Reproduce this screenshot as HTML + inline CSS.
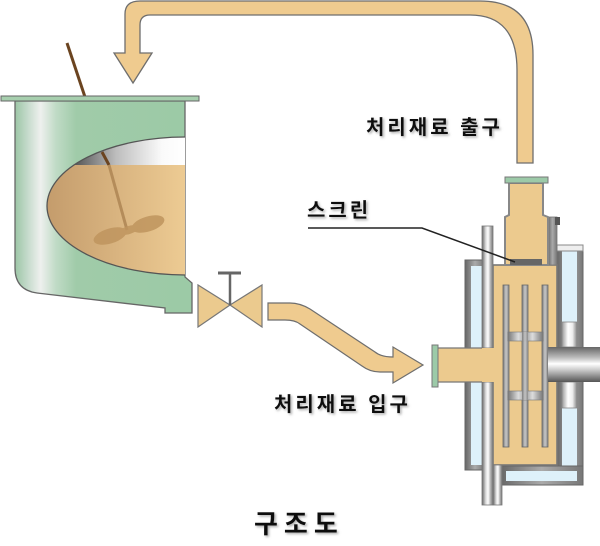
<!DOCTYPE html>
<html>
<head>
<meta charset="utf-8">
<style>
html,body{margin:0;padding:0;background:#fff;}
svg{display:block;}
.t{font-family:"Liberation Sans","Noto Sans CJK KR",sans-serif;font-weight:bold;fill:#111;}
</style>
</head>
<body>
<svg width="600" height="546" viewBox="0 0 600 546" xmlns="http://www.w3.org/2000/svg">
<defs>
  <linearGradient id="green" gradientUnits="userSpaceOnUse" x1="15" y1="0" x2="185" y2="0">
    <stop offset="0" stop-color="#9cc6a6"/>
    <stop offset="0.08" stop-color="#c8dcce"/>
    <stop offset="0.15" stop-color="#eef0ee"/>
    <stop offset="0.24" stop-color="#c0dbc6"/>
    <stop offset="0.36" stop-color="#a0cba9"/>
    <stop offset="1" stop-color="#9ccaa6"/>
  </linearGradient>
  <linearGradient id="grayTop" gradientUnits="userSpaceOnUse" x1="70" y1="0" x2="185" y2="0">
    <stop offset="0" stop-color="#4a4a4a"/>
    <stop offset="0.4" stop-color="#bdbdbd"/>
    <stop offset="0.8" stop-color="#fafafa"/>
    <stop offset="1" stop-color="#ffffff"/>
  </linearGradient>
  <linearGradient id="liquid" gradientUnits="userSpaceOnUse" x1="47" y1="0" x2="185" y2="0">
    <stop offset="0" stop-color="#c49c6c"/>
    <stop offset="1" stop-color="#edcb93"/>
  </linearGradient>
  <linearGradient id="rod" x1="0" y1="0" x2="1" y2="0">
    <stop offset="0" stop-color="#666"/>
    <stop offset="0.35" stop-color="#ddd"/>
    <stop offset="0.55" stop-color="#fff"/>
    <stop offset="0.8" stop-color="#aaa"/>
    <stop offset="1" stop-color="#777"/>
  </linearGradient>
  <linearGradient id="bar" x1="0" y1="0" x2="1" y2="0">
    <stop offset="0" stop-color="#777"/>
    <stop offset="0.5" stop-color="#c8c8c8"/>
    <stop offset="1" stop-color="#888"/>
  </linearGradient>
  <linearGradient id="band" x1="0" y1="0" x2="1" y2="0">
    <stop offset="0" stop-color="#777"/>
    <stop offset="0.3" stop-color="#ddd"/>
    <stop offset="0.5" stop-color="#999"/>
    <stop offset="0.7" stop-color="#ddd"/>
    <stop offset="1" stop-color="#777"/>
  </linearGradient>
  <linearGradient id="shaft" x1="0" y1="0" x2="0" y2="1">
    <stop offset="0" stop-color="#666"/>
    <stop offset="0.3" stop-color="#bbb"/>
    <stop offset="0.48" stop-color="#fff"/>
    <stop offset="0.65" stop-color="#ccc"/>
    <stop offset="1" stop-color="#555"/>
  </linearGradient>
  <linearGradient id="bear" x1="0" y1="0" x2="1" y2="0">
    <stop offset="0" stop-color="#999"/>
    <stop offset="0.4" stop-color="#fff"/>
    <stop offset="0.7" stop-color="#eee"/>
    <stop offset="1" stop-color="#888"/>
  </linearGradient>
  <linearGradient id="frame" x1="0" y1="0" x2="1" y2="0">
    <stop offset="0" stop-color="#666"/>
    <stop offset="0.5" stop-color="#aaa"/>
    <stop offset="1" stop-color="#777"/>
  </linearGradient>
  <clipPath id="cut">
    <path d="M185,137 A138,69 0 0 0 185,275 Z"/>
  </clipPath>
  <filter id="sh" x="-10%" y="-30%" width="120%" height="160%">
    <feGaussianBlur in="SourceAlpha" stdDeviation="1.2"/>
    <feOffset dx="1.5" dy="1.5" result="b"/>
    <feFlood flood-color="#888" flood-opacity="0.7"/>
    <feComposite in2="b" operator="in"/>
    <feMerge><feMergeNode/><feMergeNode in="SourceGraphic"/></feMerge>
  </filter>
</defs>

<!-- Return pipe -->
<path d="M517,163 L517,70 Q517,15 470,15 L150,15 Q140,15 140,25 L140,53 L152,53 L133,83 L114,53 L125,53 L125,14 Q125,1 140,1 L480,1 Q533,1 533,55 L533,163 Z" fill="#efcb8f" stroke="#6e6e6e" stroke-width="1.3"/>

<!-- Agitator shaft outside -->
<line x1="67" y1="43" x2="85" y2="97" stroke="#6b4420" stroke-width="3"/>

<!-- Tank body -->
<path d="M15,101 L185,101 L185,277 L192,283 L192,313 L165,313 L165,308 L37,293 Q15,290 15,268 Z" fill="url(#green)" stroke="#666" stroke-width="1.3"/>
<!-- Rim -->
<rect x="1" y="96" width="198" height="5" fill="#a7cfae" stroke="#666" stroke-width="1"/>

<!-- Cutout -->
<g clip-path="url(#cut)">
  <rect x="40" y="130" width="150" height="36" fill="url(#grayTop)"/>
  <rect x="40" y="165" width="150" height="115" fill="url(#liquid)"/>
  <line x1="102" y1="152" x2="109" y2="165" stroke="#6b4420" stroke-width="3"/>
  <line x1="109" y1="165" x2="127" y2="230" stroke="#b48c5a" stroke-width="3"/>
  <g fill="#bf955e" opacity="0.85">
    <ellipse cx="110" cy="236" rx="17" ry="7.5" transform="rotate(-17 110 236)"/>
    <ellipse cx="148" cy="224" rx="17" ry="7.5" transform="rotate(-17 148 224)"/>
    <ellipse cx="129" cy="230" rx="10" ry="4" transform="rotate(-17 129 230)"/>
  </g>
</g>
<path d="M185,137 A138,69 0 0 0 185,275" fill="none" stroke="#555" stroke-width="1.3"/>

<!-- Valve -->
<polygon points="198,285 198,327 230,305" fill="#ebca8e" stroke="#777" stroke-width="1.2"/>
<polygon points="262,285 262,327 230,305" fill="#ebca8e" stroke="#777" stroke-width="1.2"/>
<line x1="230" y1="305" x2="230" y2="273" stroke="#666" stroke-width="2.5"/>
<line x1="218" y1="273" x2="241" y2="273" stroke="#666" stroke-width="3"/>

<!-- Inlet pipe arrow -->
<path d="M268,303 L290,303 Q300,303 310,309 L375,352 Q381,357 393,357 L393,347 L423,365 L393,383 L393,372 L380,372 Q370,372 362,366 L300,324 Q295,320 285,320 L268,320 Z" fill="#efcb8f" stroke="#6e6e6e" stroke-width="1.2"/>

<!-- Machine: right jacket -->
<rect x="557" y="245" width="26" height="240" fill="url(#frame)" stroke="#666" stroke-width="1"/>
<rect x="562" y="251" width="15" height="229" fill="#def1fa"/>
<rect x="557" y="245" width="26" height="6" fill="#eee" stroke="#888" stroke-width="1"/>
<!-- bottom strip -->
<rect x="500" y="466" width="83" height="19" fill="url(#frame)" stroke="#666" stroke-width="1"/>
<rect x="506" y="471" width="71" height="10" fill="#def1fa"/>
<!-- left jacket -->
<rect x="465" y="260" width="20" height="210" fill="url(#frame)" stroke="#666" stroke-width="1"/>
<rect x="471" y="266" width="11" height="199" fill="#def1fa"/>

<!-- Tan body -->
<rect x="493" y="265" width="64" height="200" fill="#ecca8e" stroke="#777" stroke-width="1.6"/>
<!-- inner bars -->
<rect x="503" y="285" width="6" height="162" fill="url(#bar)" stroke="#666" stroke-width="0.8"/>
<rect x="522" y="285" width="6" height="162" fill="url(#bar)" stroke="#666" stroke-width="0.8"/>
<rect x="542" y="285" width="6" height="162" fill="url(#bar)" stroke="#666" stroke-width="0.8"/>
<rect x="508" y="332" width="35" height="9" fill="url(#band)" stroke="#777" stroke-width="0.6"/>
<rect x="508" y="391" width="35" height="9" fill="url(#band)" stroke="#777" stroke-width="0.6"/>
<rect x="522" y="332" width="6" height="68" fill="url(#bar)" opacity="0.9"/>

<!-- bearings -->
<rect x="562" y="322" width="15" height="25" fill="url(#bear)" stroke="#888" stroke-width="0.8"/>
<rect x="562" y="382" width="15" height="26" fill="url(#bear)" stroke="#888" stroke-width="0.8"/>
<!-- shaft -->
<rect x="548" y="347" width="53" height="35" fill="url(#shaft)"/>

<!-- rod (split at inlet) -->
<rect x="482" y="226" width="11" height="122" fill="url(#rod)" stroke="#777" stroke-width="0.8"/>
<rect x="482" y="382" width="11" height="123" fill="url(#rod)" stroke="#777" stroke-width="0.8"/>
<rect x="493" y="465" width="9" height="40" fill="url(#rod)" stroke="#777" stroke-width="0.8"/>

<!-- inlet -->
<rect x="438" y="348" width="57" height="34" fill="#ecca8e"/>
<line x1="438" y1="348" x2="482" y2="348" stroke="#777" stroke-width="1.2"/>
<line x1="438" y1="382" x2="482" y2="382" stroke="#777" stroke-width="1.2"/>
<rect x="432" y="345" width="6" height="42" fill="#9ccaa8" stroke="#777" stroke-width="1"/>

<!-- outlet -->
<rect x="548" y="217" width="9" height="48" fill="url(#frame)" stroke="#777" stroke-width="0.8"/>
<rect x="555" y="217" width="5" height="8" fill="#555"/>
<path d="M509,183 L543,183 L543,215 L548,217 L548,265 L505,265 L505,217 L509,215 Z" fill="#ecca8e" stroke="#888" stroke-width="2"/>
<rect x="505" y="177" width="43" height="6" fill="#9ccaa8" stroke="#777" stroke-width="1"/>
<!-- screen -->
<rect x="510" y="259" width="32" height="6" fill="#666"/>

<!-- leader line -->
<polyline points="308,228 422,228 515,262" fill="none" stroke="#222" stroke-width="1.5"/>

<!-- Labels -->
<g filter="url(#sh)">
  <text class="t" x="366" y="134" font-size="20" letter-spacing="3">처리재료 출구</text>
  <text class="t" x="307" y="217" font-size="20" letter-spacing="3">스크린</text>
  <text class="t" x="274" y="411" font-size="20" letter-spacing="3">처리재료 입구</text>
  <text class="t" x="254" y="533" font-size="26" letter-spacing="6">구조도</text>
</g>
</svg>
</body>
</html>
